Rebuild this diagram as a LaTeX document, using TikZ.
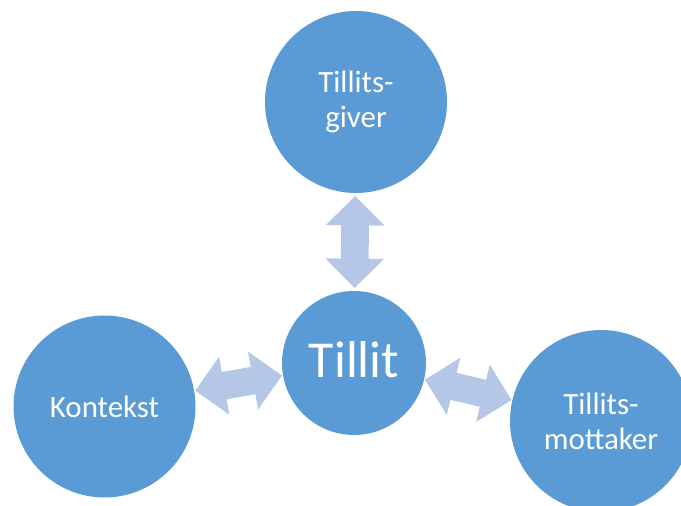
\documentclass[tikz,border=0pt]{standalone}
\usepackage{fontspec}
\setmainfont{Carlito}
\usepackage{tikz}
\usetikzlibrary{shapes.arrows}
\definecolor{bubbleblue}{HTML}{5B9BD5}
\definecolor{linkblue}{HTML}{B4C7E7}

\begin{document}
\begin{tikzpicture}[x=0.02cm,y=-0.02cm,
  bubble/.style={circle,fill=bubbleblue,text=white,inner sep=0pt,minimum size=3.64cm,
    align=center,font=\fontsize{17.6pt}{19.85pt}\selectfont},
  hub/.style={bubble,minimum size=2.88cm,font=\fontsize{29.5pt}{35pt}\selectfont,text depth=4.5pt},
  link/.style={double arrow,fill=linkblue,inner sep=0pt,sloped,
    text height=0.54cm,text depth=0pt,double arrow head extend=0.31cm,double arrow tip angle=90,
    minimum height=#1}]
\useasboundingbox (0,0) rectangle (681,506);
\clip (0,0) rectangle (681,506);
\node [bubble] (giver) at (356,102) {Tillits-\\giver};
\node [hub] (tillit) at (354,363) {Tillit};
\node [bubble] (kontekst) at (104.5,406.5) {Kontekst};
\node [bubble] (mottaker) at (601,421) {Tillits-\\mottaker};
\path (giver) -- node [link=1.84cm] (giverlink) {} (tillit);
\path (kontekst) -- node [link=1.76cm] (kontekstlink) {} (tillit);
\path (tillit) -- node [link=1.78cm] (mottakerlink) {} (mottaker);
\end{tikzpicture}
\end{document}
